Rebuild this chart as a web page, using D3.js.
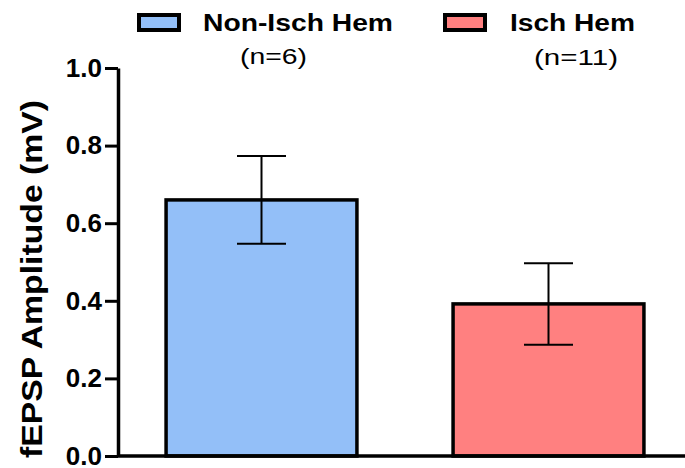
<!DOCTYPE html>
<html>
<head>
<meta charset="utf-8">
<script src="https://cdn.jsdelivr.net/npm/d3@7"></script>
<style>
  html, body { margin: 0; padding: 0; background: #fff; }
  svg { display: block; font-family: "Liberation Sans", Arial, Helvetica, sans-serif; }
</style>
</head>
<body>
<svg id="chart" width="685" height="468"></svg>
<script>
// Group summary: mean fEPSP amplitude (mV) with SEM
const groups = ["Non-Isch Hem", "Isch Hem"];
const counts = ["(n=6)", "(n=11)"];
const means = [0.66, 0.392];
const sems = [0.113, 0.105];
const colors = ["#93BFF8", "#FF8080"];
const yTicks = [0.0, 0.2, 0.4, 0.6, 0.8, 1.0];

const svg = d3.select("#chart");
const axisX = 118, baseY = 456, topY = 68;

const y = d3.scaleLinear().domain([0, 1]).range([baseY, topY]);
const p = 0.335;
const x = d3.scaleBand().domain(groups).range([axisX, 692])
  .paddingInner(p).paddingOuter(p / 2);

// Bars
svg.selectAll("rect.bar").data(groups).join("rect")
  .attr("class", "bar")
  .attr("x", d => x(d))
  .attr("y", (d, i) => y(means[i]))
  .attr("width", x.bandwidth())
  .attr("height", (d, i) => baseY - y(means[i]))
  .attr("fill", (d, i) => colors[i])
  .attr("stroke", "#000")
  .attr("stroke-width", 3.5);

// Error bars (mean ± SEM)
const capHalf = 24.5;
const eb = svg.selectAll("g.err").data(groups).join("g").attr("class", "err")
  .attr("stroke", "#000").attr("stroke-width", 2);
eb.append("line")
  .attr("x1", d => x(d) + x.bandwidth() / 2).attr("x2", d => x(d) + x.bandwidth() / 2)
  .attr("y1", (d, i) => y(means[i] + sems[i])).attr("y2", (d, i) => y(means[i] - sems[i]));
eb.append("line")
  .attr("x1", d => x(d) + x.bandwidth() / 2 - capHalf).attr("x2", d => x(d) + x.bandwidth() / 2 + capHalf)
  .attr("y1", (d, i) => y(means[i] + sems[i])).attr("y2", (d, i) => y(means[i] + sems[i]));
eb.append("line")
  .attr("x1", d => x(d) + x.bandwidth() / 2 - capHalf).attr("x2", d => x(d) + x.bandwidth() / 2 + capHalf)
  .attr("y1", (d, i) => y(means[i] - sems[i])).attr("y2", (d, i) => y(means[i] - sems[i]));

// Y axis
const yAxis = d3.axisLeft(y).tickValues(yTicks).tickFormat(d3.format(".1f"))
  .tickSizeOuter(0).tickSizeInner(13).tickPadding(3);
const gy = svg.append("g").attr("transform", `translate(${axisX},0)`).call(yAxis);
gy.select(".domain").attr("stroke", "#000").attr("stroke-width", 3.5);
gy.selectAll(".tick line").attr("stroke", "#000").attr("stroke-width", 3);
gy.selectAll(".tick text")
  .attr("fill", "#000")
  .style("font-family", "'Liberation Sans', Arial, sans-serif")
  .style("font-size", "26px").style("font-weight", "bold");

// X baseline
svg.append("line")
  .attr("x1", axisX).attr("x2", 685)
  .attr("y1", baseY).attr("y2", baseY)
  .attr("stroke", "#000").attr("stroke-width", 3.5);

// Y axis title
svg.append("text")
  .attr("transform", `translate(42,${(100 + 458) / 2}) rotate(-90)`)
  .attr("text-anchor", "middle")
  .attr("textLength", 358).attr("lengthAdjust", "spacingAndGlyphs")
  .style("font-size", "30px").style("font-weight", "bold")
  .text("fEPSP Amplitude (mV)");

// Legend
const legendX = [137, 443];
const labelX = [203, 510];
const labelW = [190, 125];
const countX = [273.5, 576];
const countW = [67, 84];
const lg = svg.selectAll("g.legend").data(groups).join("g").attr("class", "legend");
lg.append("rect")
  .attr("x", (d, i) => legendX[i] + 2).attr("y", 15)
  .attr("width", 40).attr("height", 15)
  .attr("fill", (d, i) => colors[i])
  .attr("stroke", "#000").attr("stroke-width", 4);
lg.append("text")
  .attr("x", (d, i) => labelX[i]).attr("y", 31)
  .attr("textLength", (d, i) => labelW[i]).attr("lengthAdjust", "spacingAndGlyphs")
  .style("font-size", "23px").style("font-weight", "bold")
  .text(d => d);
lg.append("text")
  .attr("x", (d, i) => countX[i]).attr("y", (d, i) => 64 + i)
  .attr("text-anchor", "middle")
  .attr("textLength", (d, i) => countW[i]).attr("lengthAdjust", "spacingAndGlyphs")
  .style("font-size", "22px")
  .text((d, i) => counts[i]);
</script>
</body>
</html>
